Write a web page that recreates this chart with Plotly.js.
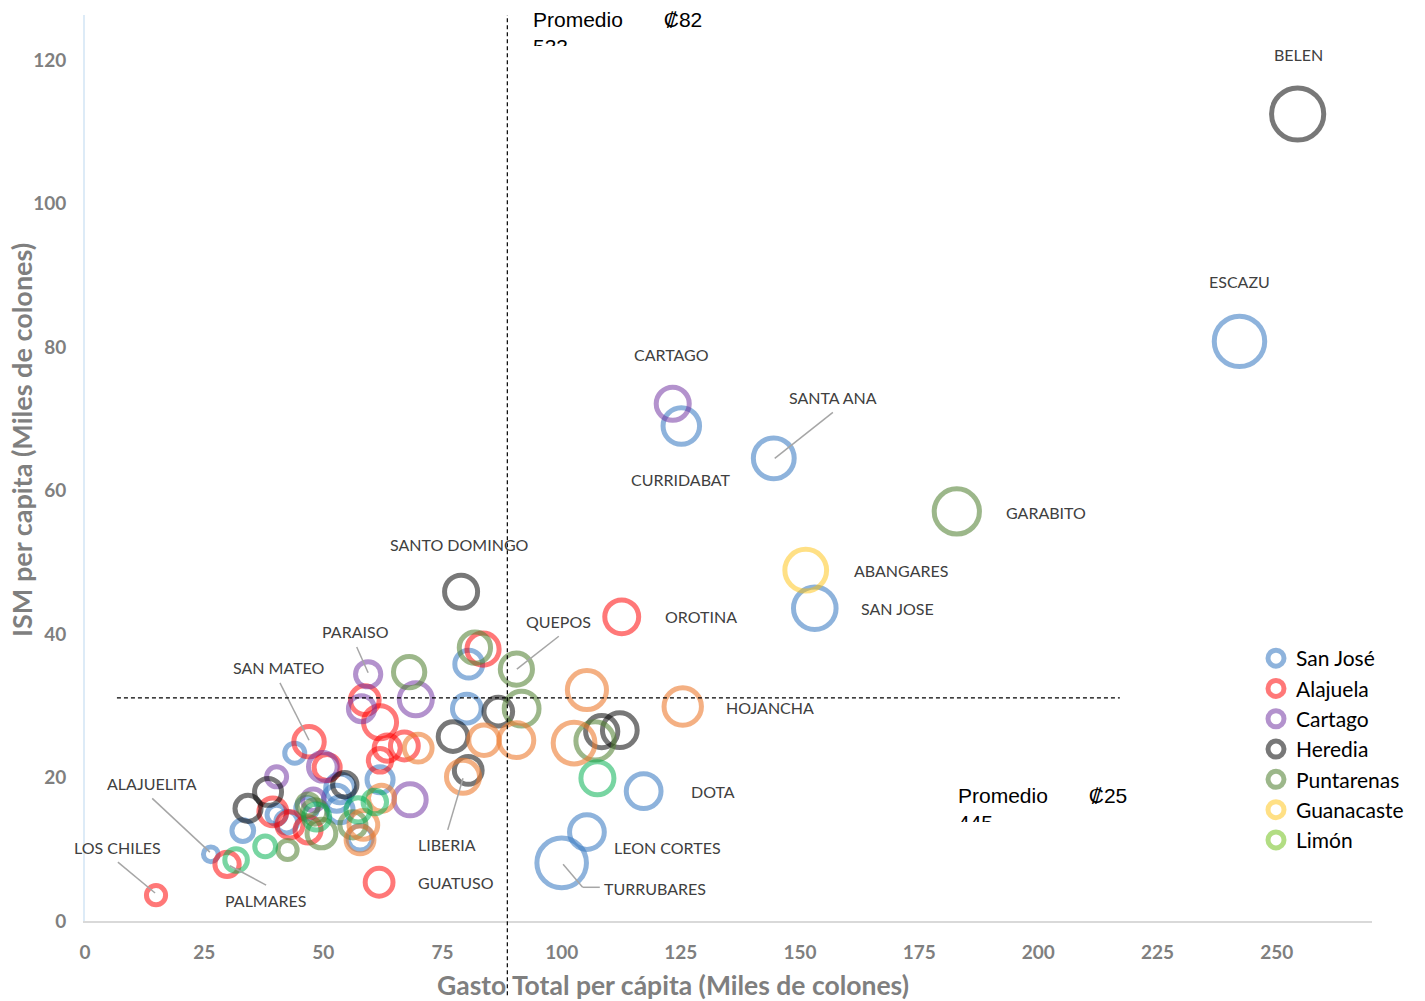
<!DOCTYPE html>
<html><head><meta charset="utf-8">
<script src="https://cdn.plot.ly/plotly-3.0.1.min.js"></script>
<style>body{margin:0;background:#fff}#chart{width:1425px;height:1001px}</style>
</head><body><div id="chart"></div>
<script>
// ---- Data (Gasto total per cápita, ISM per cápita, bubble size) ----
const sanJoseX    = [242.2, 125.1, 144.5, 153.1, 117.2, 105.3, 100.0, 26.4, 80.5, 80.1, 33.1, 44.0, 53.5, 61.9, 42.3, 40.2, 46.5, 52.8, 57.7, 53.5];
const sanJoseY    = [80.8, 69.0, 64.5, 43.6, 18.1, 12.4, 8.1, 9.3, 35.8, 29.6, 12.6, 23.4, 18.5, 19.7, 13.8, 14.8, 15.7, 17.1, 11.6, 15.5];
const sanJoseSize = [58, 42, 47, 49, 40, 40, 57, 17, 32, 33, 25, 23, 33, 30, 25, 22, 25, 30, 28, 30];

const alajuelaX    = [112.6, 61.7, 14.9, 29.8, 47.0, 83.5, 58.7, 61.9, 67.0, 63.4, 61.9, 50.8, 39.4, 43.0, 46.8];
const alajuelaY    = [42.4, 5.4, 3.6, 7.9, 25.0, 37.9, 30.8, 27.7, 24.4, 24.1, 22.4, 21.4, 15.2, 13.4, 12.7];
const alajuelaSize = [39, 32, 22, 28, 35, 37, 33, 38, 32, 30, 27, 30, 32, 30, 30];

const cartagoX    = [123.3, 59.4, 58.0, 69.4, 40.2, 49.9, 68.2, 47.9];
const cartagoY    = [72.1, 34.4, 29.6, 30.9, 20.1, 21.5, 16.9, 16.9];
const cartagoSize = [38, 29, 30, 38, 23, 33, 37, 25];

const herediaX    = [254.4, 78.9, 86.7, 77.2, 80.4, 108.4, 112.2, 34.2, 38.4, 54.5];
const herediaY    = [112.5, 45.9, 29.2, 25.7, 21.0, 26.4, 26.6, 15.7, 18.0, 19.0];
const herediaSize = [60, 38, 33, 34, 32, 37, 40, 30, 31, 28];

const puntarenasX    = [182.9, 90.5, 68.0, 81.8, 91.6, 107.0, 42.5, 49.6, 56.2, 46.8, 48.2];
const puntarenasY    = [57.1, 35.1, 34.7, 38.1, 29.6, 25.1, 9.9, 12.2, 13.4, 16.2, 15.2];
const puntarenasSize = [52, 37, 36, 36, 40, 44, 22, 33, 30, 25, 28];

const guanacasteX    = [151.2];
const guanacasteY    = [48.9];
const guanacasteSize = [48];

const limonX = [null], limonY = [null], limonSize = [20];

// series drawn in the chart but not named in the legend
const orangeX    = [125.4, 105.3, 102.6, 83.7, 90.5, 79.3, 69.9, 62.2, 58.4, 57.7];
const orangeY    = [29.9, 32.2, 24.8, 25.2, 25.2, 20.1, 24.1, 17.1, 13.4, 11.3];
const orangeSize = [43, 45, 48, 35, 40, 38, 32, 30, 33, 32];

const greenX    = [31.7, 37.8, 107.5, 60.8, 57.3, 48.6];
const greenY    = [8.5, 10.4, 19.9, 16.6, 15.5, 14.5];
const greenSize = [26, 24, 38, 27, 28, 30];

// municipality labels
const labelNames = ['BELEN','ESCAZU','CARTAGO','CURRIDABAT','SANTA ANA','GARABITO','ABANGARES','SAN JOSE','OROTINA','SANTO DOMINGO','QUEPOS','HOJANCHA','DOTA','LEON CORTES','TURRUBARES','GUATUSO','LIBERIA','PALMARES','LOS CHILES','ALAJUELITA','SAN MATEO','PARAISO'];
const labelX = [254.6, 242.2, 123.1, 125.0, 156.9, 201.6, 171.1, 170.5, 129.2, 78.6, 99.4, 143.7, 131.7, 122.1, 119.5, 77.8, 75.9, 38.0, 6.9, 14.1, 40.7, 56.8];
const labelY = [120.8, 89.1, 79.0, 61.6, 73.0, 57.0, 48.8, 43.5, 42.4, 52.5, 41.8, 29.7, 18.0, 10.3, 4.6, 5.3, 10.6, 2.9, 10.2, 19.2, 35.3, 40.4];

// leader lines [x0,y0,x1,y1]
const leaderLines = [
  [144.7, 64.5, 156.9, 70.9],
  [90.6, 35.1, 99.4, 39.7],
  [79.3, 19.9, 76.1, 12.7],
  [100.3, 7.9, 104.4, 4.7],
  [104.4, 4.7, 108.0, 4.7],
  [40.9, 33.2, 47.0, 25.2],
  [57.0, 38.2, 59.4, 34.6],
  [14.1, 17.1, 26.2, 9.6],
  [6.9, 8.2, 14.7, 3.9],
  [30.4, 7.7, 38.0, 5.0]
];

const avgX = 88.6;   // vertical average line position
const avgY = 31.1;   // horizontal average line position
const xTicks = [0, 25, 50, 75, 100, 125, 150, 175, 200, 225, 250];
const yTicks = [0, 20, 40, 60, 80, 100, 120];

const X_MAX = 270, Y_MAX = 126.3;

function ring(name, x, y, s, color, showlegend) {
  return {
    type: 'scatter', mode: 'markers', name: name, x: x, y: y,
    showlegend: showlegend,
    marker: {
      size: s, sizemode: 'diameter', sizeref: 1.15,
      color: 'rgba(0,0,0,0)',
      line: {color: color, width: 5}
    },
    hoverinfo: 'x+y+name'
  };
}

const traces = [
  ring('San José', sanJoseX, sanJoseY, sanJoseSize, 'rgba(60,125,195,0.82)', true),
  ring('Alajuela', alajuelaX, alajuelaY, alajuelaSize, 'rgba(255,0,0,0.75)', true),
  ring('Cartago', cartagoX, cartagoY, cartagoSize, 'rgba(112,48,160,0.75)', true),
  ring('Heredia', herediaX, herediaY, herediaSize, 'rgba(0,0,0,0.75)', true),
  ring('Puntarenas', puntarenasX, puntarenasY, puntarenasSize, 'rgba(84,130,53,0.82)', true),
  ring('Guanacaste', guanacasteX, guanacasteY, guanacasteSize, 'rgba(255,192,0,0.68)', true),
  ring('Limón', limonX, limonY, limonSize, 'rgba(146,208,80,1)', true),
  ring('Serie 8', orangeX, orangeY, orangeSize, 'rgba(237,125,49,0.85)', false),
  ring('Serie 9', greenX, greenY, greenSize, 'rgba(0,176,80,0.75)', false)
];

const annotations = labelNames.map((t, i) => ({
  x: labelX[i], y: labelY[i], xref: 'x', yref: 'y', text: t, showarrow: false,
  xanchor: 'center', yanchor: 'middle',
  font: {family: 'Lato, sans-serif', size: 16, color: '#404040'}
}));

annotations.push({
  xref: 'paper', yref: 'paper', x: (532 - 85) / 1287, y: 1.009, xanchor: 'left', yanchor: 'top',
  text: 'Promedio\u00A0\u00A0\u00A0\u00A0\u00A0\u00A0\u00A0₡82<br>533', showarrow: false,
  align: 'left', valign: 'top', height: 38, borderpad: 0,
  font: {family: 'Liberation Sans, Arial, sans-serif', size: 21, color: '#000'}
});
annotations.push({
  xref: 'paper', yref: 'paper', x: (957 - 85) / 1287, y: (921 - 783) / 906, xanchor: 'left', yanchor: 'top',
  text: 'Promedio\u00A0\u00A0\u00A0\u00A0\u00A0\u00A0\u00A0₡25<br>445', showarrow: false,
  align: 'left', valign: 'top', height: 38, borderpad: 0,
  font: {family: 'Liberation Sans, Arial, sans-serif', size: 21, color: '#000'}
});
// axis titles
annotations.push({
  xref: 'paper', yref: 'paper', x: (673 - 85) / 1287, y: (921 - 985) / 906, xanchor: 'center', yanchor: 'middle',
  text: 'Gasto Total per cápita (Miles de colones)', showarrow: false,
  font: {family: 'Lato, sans-serif', size: 26.5, color: '#7F7F7F', weight: 'bold'}
});
annotations.push({
  xref: 'paper', yref: 'paper', x: (22 - 85) / 1287, y: (921 - 440) / 906, xanchor: 'center', yanchor: 'middle',
  text: 'ISM per capita (Miles de colones)', showarrow: false, textangle: -90,
  font: {family: 'Lato, sans-serif', size: 27, color: '#7F7F7F', weight: 'bold'}
});

const shapes = leaderLines.map(l => ({
  type: 'line', xref: 'x', yref: 'y', x0: l[0], y0: l[1], x1: l[2], y1: l[3],
  line: {color: '#A6A6A6', width: 1.5}
}));
shapes.push({
  type: 'line', xref: 'paper', yref: 'paper', x0: avgX / X_MAX, x1: avgX / X_MAX,
  y0: -0.082, y1: 1.0, line: {color: '#000', width: 1.2, dash: '4px,3px'}
});
shapes.push({
  type: 'line', xref: 'x', yref: 'y', x0: 6.7, x1: 217.1, y0: avgY, y1: avgY,
  line: {color: '#000', width: 1.2, dash: '4px,3px'}
});

const layout = {
  width: 1425, height: 1001,
  margin: {l: 85, r: 53, t: 15, b: 80},
  paper_bgcolor: '#fff', plot_bgcolor: '#fff',
  showlegend: true,
  legend: {
    x: (1256 - 85) / 1287, y: (921 - 638) / 906, xanchor: 'left', yanchor: 'top',
    font: {family: 'Lato, sans-serif', size: 21, color: '#000'},
    itemsizing: 'trace', bgcolor: 'rgba(0,0,0,0)', tracegroupgap: 0
  },
  xaxis: {
    range: [0, X_MAX], tickvals: xTicks, ticktext: xTicks.map(String),
    showgrid: false, zeroline: false, showline: true, linecolor: '#D9D9D9', linewidth: 2,
    ticks: '', ticklabelstandoff: 13,
    tickfont: {family: 'Lato, sans-serif', size: 19, color: '#7F7F7F', weight: 'bold'}
  },
  yaxis: {
    range: [0, Y_MAX], tickvals: yTicks, ticktext: yTicks.map(String),
    showgrid: false, zeroline: false, showline: true, linecolor: '#DDEBF7', linewidth: 2,
    ticks: '', ticklabelstandoff: 13,
    tickfont: {family: 'Lato, sans-serif', size: 19, color: '#7F7F7F', weight: 'bold'}
  },
  annotations: annotations,
  shapes: shapes
};

Plotly.newPlot('chart', traces, layout, {displayModeBar: false, staticPlot: true});
</script>
</body></html>
